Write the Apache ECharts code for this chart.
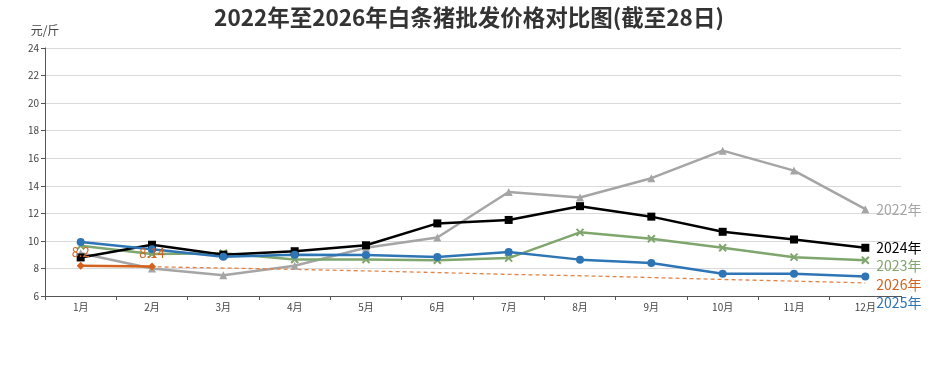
<!DOCTYPE html>
<html>
<head>
<meta charset="utf-8">
<script src="https://cdn.jsdelivr.net/npm/echarts@6/dist/echarts.min.js"></script>
<style>
html,body{margin:0;padding:0;background:#fff;}
#chart{width:938px;height:390px;}
</style>
</head>
<body>
<div id="chart"></div>
<script>
const months = ['1月','2月','3月','4月','5月','6月','7月','8月','9月','10月','11月','12月'];
const s2022 = [9.1, 8.0, 7.5, 8.2, 9.5, 10.25, 13.55, 13.15, 14.55, 16.55, 15.1, 12.3];
const s2023 = [9.65, 9.05, 9.1, 8.65, 8.65, 8.6, 8.75, 10.62, 10.15, 9.5, 8.82, 8.6];
const s2024 = [8.8, 9.72, 9.0, 9.25, 9.68, 11.27, 11.52, 12.52, 11.76, 10.66, 10.1, 9.5];
const s2025 = [9.92, 9.4, 8.85, 9.0, 8.98, 8.83, 9.2, 8.64, 8.4, 7.62, 7.62, 7.42];
const s2026 = [8.2, 8.14];
const trend2026 = [8.2, 8.12, 8.03, 7.93, 7.82, 7.7, 7.57, 7.47, 7.34, 7.2, 7.08, 6.95];
const yTicks = {min: 6, max: 24, interval: 2};

const chart = echarts.init(document.getElementById('chart'));
const font = '"Noto Sans CJK SC", "Noto Sans", sans-serif';
function endLbl(text, color, dy) {
  return {show: true, formatter: text, color: color, fontSize: 14, fontFamily: font, distance: 11, offset: [0, dy]};
}
chart.setOption({
  animation: false,
  title: {
    text: '2022年至2026年白条猪批发价格对比图(截至28日)',
    left: 'center', top: 1,
    textStyle: {fontSize: 22.5, fontWeight: 'bold', color: '#333', fontFamily: font}
  },
  grid: {left: 45, right: 37, top: 48, bottom: 94},
  xAxis: {
    type: 'category', data: months, boundaryGap: true,
    axisLine: {lineStyle: {color: '#555', width: 1}},
    axisTick: {show: true, length: 4, lineStyle: {color: '#555'}},
    axisLabel: {fontSize: 10, color: '#444', fontFamily: font, margin: 6}
  },
  yAxis: {
    type: 'value', min: yTicks.min, max: yTicks.max, interval: yTicks.interval,
    name: '元/斤', nameGap: 12,
    nameTextStyle: {fontSize: 12, color: '#444', fontFamily: font, align: 'center'},
    axisLine: {show: true, lineStyle: {color: '#555', width: 1}},
    axisTick: {show: true, length: 4, lineStyle: {color: '#555'}},
    axisLabel: {fontSize: 10, color: '#444', fontFamily: font, margin: 6},
    splitLine: {lineStyle: {color: '#d9d9d9', width: 1}}
  },
  series: [
    {name: '2022年', type: 'line', data: s2022, symbol: 'triangle', symbolSize: 8,
     itemStyle: {color: '#A5A5A5'}, lineStyle: {color: '#A5A5A5', width: 2.5},
     endLabel: endLbl('2022年', '#A5A5A5', 0)},
    {name: '2023年', type: 'line', data: s2023, symbol: 'path://M-1,-1L1,1M1,-1L-1,1', symbolSize: 7,
     itemStyle: {color: 'none', borderColor: '#7FA66D', borderWidth: 2}, lineStyle: {color: '#7FA66D', width: 2.5},
     endLabel: endLbl('2023年', '#7FA66D', 6)},
    {name: '2024年', type: 'line', data: s2024, symbol: 'rect', symbolSize: 8,
     itemStyle: {color: '#000'}, lineStyle: {color: '#000', width: 2.5},
     endLabel: endLbl('2024年', '#000', 0)},
    {name: '2025年', type: 'line', data: s2025, symbol: 'circle', symbolSize: 8,
     itemStyle: {color: '#2E75B6'}, lineStyle: {color: '#2E75B6', width: 2.5},
     endLabel: endLbl('2025年', '#2E75B6', 26)},
    {name: '2026趋势', type: 'line', data: trend2026, symbol: 'none', silent: true,
     lineStyle: {color: '#E0854A', width: 1.3, type: [4, 3]},
     endLabel: endLbl('2026年', '#D4621F', 2)},
    {name: '2026年', type: 'line', data: s2026, symbol: 'diamond', symbolSize: 8,
     itemStyle: {color: '#D4621F'}, lineStyle: {color: '#D4621F', width: 2.5},
     label: {show: true, position: 'top', color: '#D4621F', fontSize: 13, fontFamily: font, distance: 3}}
  ]
});
</script>
</body>
</html>
